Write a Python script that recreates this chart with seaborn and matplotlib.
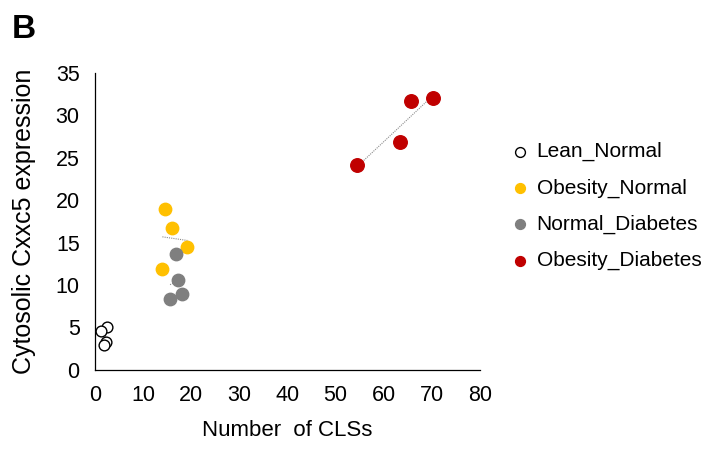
import matplotlib
matplotlib.use("Agg")
import matplotlib.pyplot as plt
import seaborn as sns
import pandas as pd

# values
groups = ["Lean_Normal", "Obesity_Normal", "Normal_Diabetes", "Obesity_Diabetes"]
lean_x = [2.4, 1.2, 2.2, 1.9]
lean_y = [5.0, 4.6, 3.3, 2.9]
obn_x = [14.5, 15.9, 19.2, 14.0]
obn_y = [19.0, 16.7, 14.5, 11.9]
nd_x = [16.8, 17.3, 18.0, 15.6]
nd_y = [13.6, 10.6, 9.0, 8.4]
obd_x = [54.5, 63.3, 65.6, 70.2]
obd_y = [24.2, 26.9, 31.7, 32.0]

face = {"Lean_Normal": "white", "Obesity_Normal": "#FFC000",
        "Normal_Diabetes": "#7F7F7F", "Obesity_Diabetes": "#C00000"}
edge = {"Lean_Normal": "black", "Obesity_Normal": "#FFC000",
        "Normal_Diabetes": "#7F7F7F", "Obesity_Diabetes": "#C00000"}
size = {"Lean_Normal": 60, "Obesity_Normal": 80,
        "Normal_Diabetes": 80, "Obesity_Diabetes": 95}

df = pd.concat([
    pd.DataFrame({"x": lean_x, "y": lean_y, "group": groups[0]}),
    pd.DataFrame({"x": obn_x, "y": obn_y, "group": groups[1]}),
    pd.DataFrame({"x": nd_x, "y": nd_y, "group": groups[2]}),
    pd.DataFrame({"x": obd_x, "y": obd_y, "group": groups[3]}),
], ignore_index=True)

sns.set_style("white")
plt.rcParams['font.family'] = ['Liberation Sans', 'DejaVu Sans']
plt.rcParams.update({"text.color": "black", "axes.labelcolor": "black",
                     "xtick.color": "black", "ytick.color": "black"})

fig = plt.figure(figsize=(7.09, 4.5), dpi=100)
ax = fig.add_axes([0.134, 0.178, 0.543, 0.66])

for g in groups:
    sub = df[df.group == g]
    # dotted linear trend over the data range
    sns.regplot(data=sub, x="x", y="y", ax=ax, scatter=False, ci=None,
                truncate=True,
                line_kws={"color": "#8c8c8c", "lw": 0.8, "ls": (0, (1, 1))})
    sns.scatterplot(data=sub, x="x", y="y", ax=ax, label=g, s=size[g],
                    color=face[g], edgecolor=edge[g], linewidth=1.0, zorder=3)

ax.set_xlim(0, 80)
ax.set_ylim(0, 35)
ax.set_xticks(range(0, 81, 10))
ax.set_yticks(range(0, 36, 5))
for s in ["top", "right"]:
    ax.spines[s].set_visible(False)
for s in ["left", "bottom"]:
    ax.spines[s].set_color("black")
    ax.spines[s].set_linewidth(0.9)
ax.tick_params(axis="both", direction="out", length=5, width=0.9,
               labelsize=15.5, pad=6)
ax.set_xlabel("Number  of CLSs", fontsize=16, labelpad=10)
ax.set_ylabel("Cytosolic Cxxc5 expression", fontsize=18, labelpad=14)

leg = ax.legend(loc="upper left", bbox_to_anchor=(1.05, 0.795), frameon=False,
                fontsize=15, labelspacing=0.82, handlelength=1.2,
                handletextpad=0.2, borderaxespad=0)
for h in leg.legend_handles:
    h.set_sizes([50])

fig.text(0.016, 0.915, "B", fontsize=24, fontweight="bold")

fig.savefig("out.png", dpi=100)
